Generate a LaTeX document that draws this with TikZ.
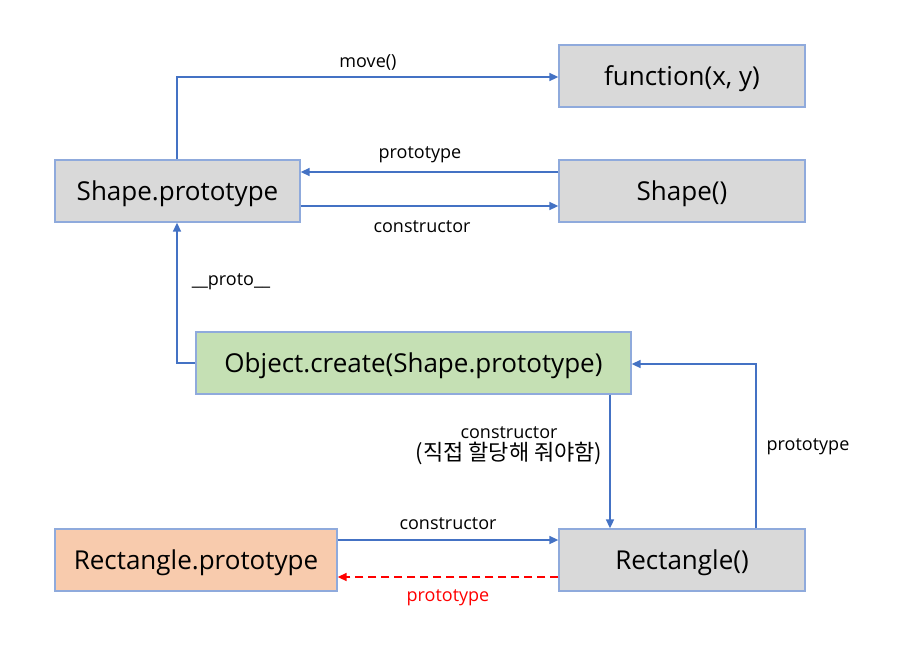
\documentclass[tikz,border=0pt]{standalone}
\usepackage{fontspec}
\setmainfont{Open Sans}
\newfontfamily\kofont{Noto Sans CJK KR}
\usetikzlibrary{arrows.meta}
\definecolor{boxgray}{HTML}{D9D9D9}
\definecolor{boxedge}{HTML}{8FAADC}
\definecolor{boxgreen}{HTML}{C5E0B4}
\definecolor{boxpeach}{HTML}{F8CBAD}
\definecolor{linkblue}{HTML}{4472C4}
\definecolor{linkred}{HTML}{FF0000}
\begin{document}
\begin{tikzpicture}[x=1pt,y=-1pt,
  objbox/.style={draw=boxedge,line width=1.3pt,fill=boxgray,minimum height=62pt,inner sep=0pt,font=\fontsize{26}{30}\selectfont},
  boxtext/.style={inner sep=0pt,font=\fontsize{26}{30}\selectfont},
  link/.style={draw=linkblue,line width=1.6pt,-{Triangle[length=9pt,width=8pt]}},
  redlink/.style={draw=linkred,line width=1.6pt,dashed,dash pattern=on 8pt off 5pt,-{Triangle[length=9pt,width=8pt]}},
  lbl/.style={font=\fontsize{18}{22}\selectfont,inner sep=1pt}]
\useasboundingbox (0,0) rectangle (901,646);
\node[objbox,minimum width=246pt] (fn) at (682,76) {};
\node[boxtext] (fnt) at (682,79) {function(x, y)};
\node[objbox,minimum width=246pt] (shape) at (682,191) {};
\node[boxtext] (shapet) at (682,194) {Shape()};
\node[objbox,minimum width=245pt] (sp) at (177.5,191) {};
\node[boxtext] (spt) at (177.5,194) {Shape.prototype};
\node[objbox,minimum width=435pt,fill=boxgreen] (oc) at (413.5,363) {};
\node[boxtext] (oct) at (413.5,366) {Object.create(Shape.prototype)};
\node[objbox,minimum width=282pt,fill=boxpeach] (rp) at (196,560) {};
\node[boxtext] (rpt) at (196,563) {Rectangle.prototype};
\node[objbox,minimum width=246pt] (rect) at (682,560) {};
\node[boxtext] (rectt) at (682,563) {Rectangle()};
\coordinate (c1) at (177,77);
\coordinate (c2) at (177,363);
\coordinate (c3) at (756,364);
% move()
\draw[link] (sp.north -| c1) -- (c1) -- (fn.west |- c1);
\node[lbl] (lmove) at (368,62) {move()};
% prototype / constructor between Shape.prototype and Shape()
\draw[link] (shape.west |- 0,172) -- (sp.east |- 0,172);
\node[lbl] (lp1) at (420,155) {prototype};
\draw[link] (sp.east |- 0,206) -- (shape.west |- 0,206);
\node[lbl] (lc1) at (422,227) {constructor};
% __proto__
\draw[link] (oc.west |- c2) -- (c2) -- (sp.south -| c2);
\node[lbl] (lproto) at (231,282) {\_\_proto\_\_};
% constructor from Object.create to Rectangle()
\draw[link] (oc.south -| 610,0) -- (rect.north -| 610,0);
\node[lbl,align=center] (lc2) at (509,446) {constructor\\{\kofont\fontsize{22}{24}\selectfont (직접 할당해 줘야함)}};
% prototype from Rectangle() to Object.create
\draw[link] (rect.north -| c3) -- (c3) -- (oc.east |- c3);
\node[lbl] (lp2) at (808,447) {prototype};
% constructor Rectangle.prototype -> Rectangle()
\draw[link] (rp.east |- 0,540) -- (rect.west |- 0,540);
\node[lbl] (lc3) at (448,524) {constructor};
% red dashed prototype
\draw[redlink] (rect.west |- 0,577) -- (rp.east |- 0,577);
\node[lbl,text=linkred] (lp3) at (448,598) {prototype};
\end{tikzpicture}
\end{document}
